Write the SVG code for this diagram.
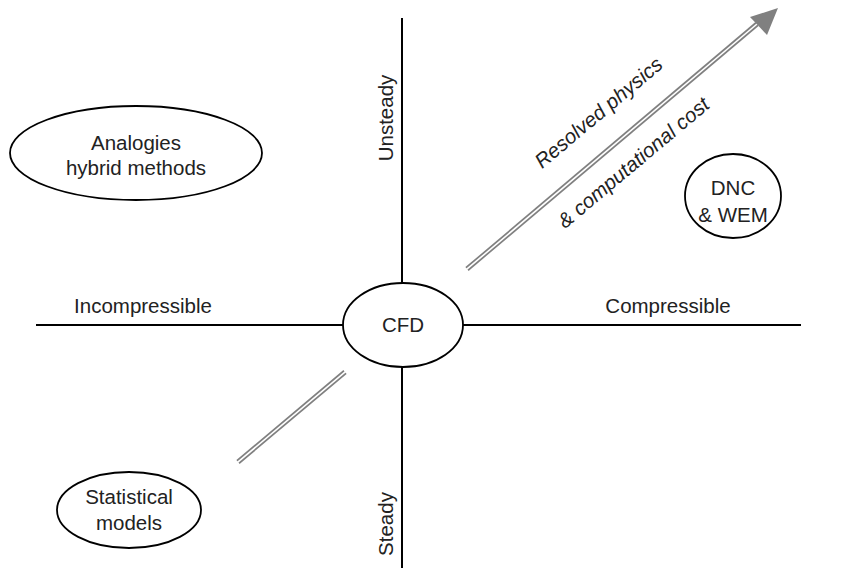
<svg xmlns="http://www.w3.org/2000/svg" width="844" height="568" viewBox="0 0 844 568">
<style>
text{font-family:"Liberation Sans",Arial,sans-serif;font-size:20.5px;fill:#222;text-anchor:middle}
.it{font-style:italic}
.axis{stroke:#000;stroke-width:2;fill:none}
.node{fill:#fff;stroke:#000;stroke-width:1.8}
.dbl{stroke:#808080;stroke-width:5;fill:none}
.dbl2{stroke:#fff;stroke-width:1.6;fill:none}
</style>
<rect width="844" height="568" fill="#fff"/>
<g id="connectors">
<line class="axis" x1="402" y1="18" x2="402" y2="568"/>
<line class="axis" x1="36" y1="325" x2="801" y2="325"/>
<line class="dbl" x1="467" y1="269" x2="757" y2="24"/>
<line class="dbl2" x1="465" y1="270.7" x2="760" y2="21.5"/>
<polygon points="778,8 767,35 750,17" fill="#808080"/>
<line class="dbl" x1="345" y1="372" x2="238" y2="462"/>
<line class="dbl2" x1="347" y1="370.3" x2="236" y2="463.7"/>
</g>
<g id="labels">
<text x="143" y="313">Incompressible</text>
<text x="668" y="313">Compressible</text>
<text transform="translate(393,118) rotate(-90)">Unsteady</text>
<text transform="translate(393,524) rotate(-90)">Steady</text>
<text class="it" transform="translate(603,118) rotate(-40)">Resolved physics</text>
<text class="it" transform="translate(638,168) rotate(-40)">&amp; computational cost</text>
</g>
<g id="cfd">
<ellipse class="node" cx="403" cy="325" rx="60" ry="42"/>
<text x="403" y="332">CFD</text>
</g>
<g id="analogies">
<ellipse class="node" cx="136" cy="153" rx="126" ry="47"/>
<text x="136" y="150">Analogies</text>
<text x="136" y="175">hybrid methods</text>
</g>
<g id="dnc">
<ellipse class="node" cx="733" cy="196" rx="48" ry="42"/>
<text x="733" y="195">DNC</text>
<text x="733" y="222">&amp; WEM</text>
</g>
<g id="statistical">
<ellipse class="node" cx="129" cy="510" rx="72" ry="38"/>
<text x="129" y="504">Statistical</text>
<text x="129" y="530">models</text>
</g>
</svg>
